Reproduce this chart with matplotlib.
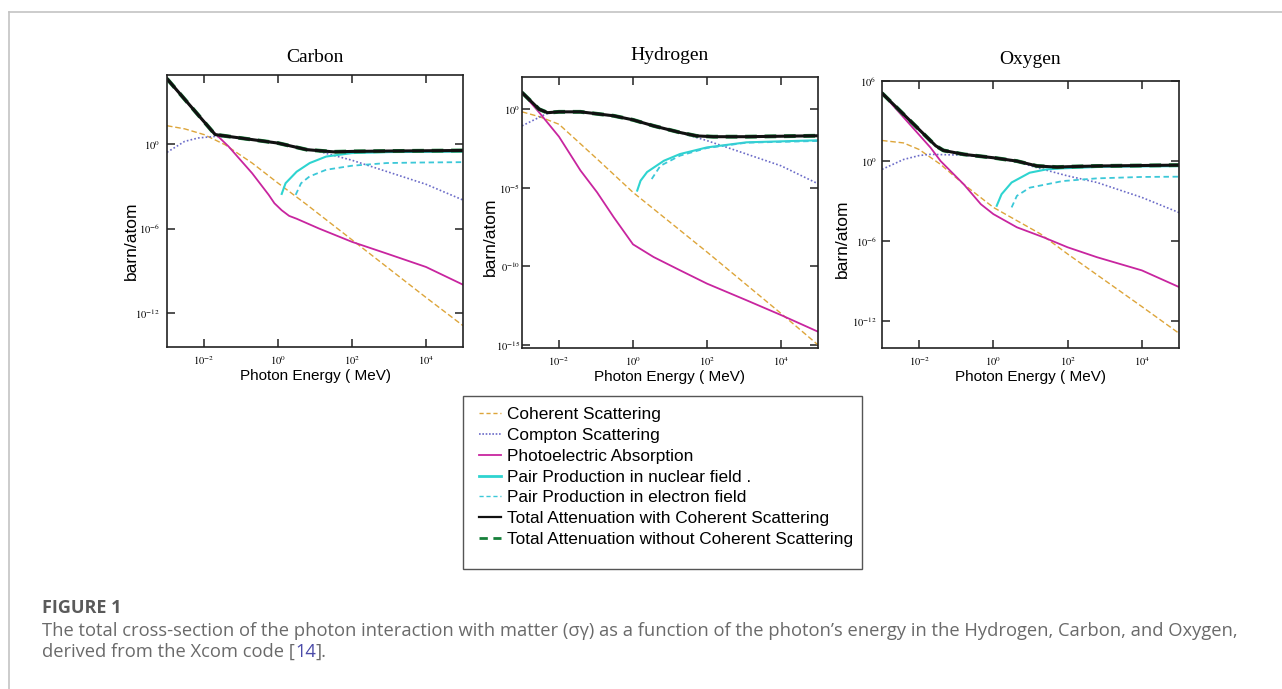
import matplotlib
matplotlib.use("Agg")
import matplotlib.pyplot as plt
from matplotlib.lines import Line2D
from matplotlib.patches import Rectangle

# ---- data (energy in MeV, cross-section in barn/atom) ----
# Carbon
c_total_e = [1e-3, 0.02, 0.07, 1, 6, 31.6, 100, 1e3, 1e5]
c_total = [4.3e4, 4.7, 3.0, 1.17, 0.4, 0.28, 0.30, 0.32, 0.35]
c_coh_e = [1e-3, 3e-3, 1e-2, 0.037, 0.2, 1, 6, 100, 1e4, 1e5]
c_coh = [20, 12, 4.7, 0.9, 0.045, 1.7e-3, 5e-5, 1.6e-7, 1.3e-11, 1.3e-13]
c_compton_e = [1e-3, 3e-3, 7e-3, 2e-2, 0.1, 1, 3, 12.6, 100, 1e3, 1e4, 1e5]
c_compton = [0.26, 1.55, 2.7, 3.5, 2.8, 1.12, 0.63, 0.30, 0.071, 0.01, 1.4e-3, 1.07e-4]
c_photo_e = [1e-3, 0.0145, 0.046, 0.2, 0.56, 0.8, 1.26, 2.0, 3.2, 13, 100, 870, 1e4, 1e5]
c_photo = [4.2e4, 12.6, 0.68, 8.5e-3, 2.5e-4, 6.3e-5, 2.0e-5, 8e-6, 5e-6, 1.0e-6, 1.15e-7, 1.7e-8, 1.9e-9,
           1.05e-10]
c_pairn_e = [1.26, 1.6, 3.2, 7.2, 20, 100, 370, 1e3, 1e5]
c_pairn = [2.9e-4, 1.66e-3, 0.011, 0.045, 0.13, 0.23, 0.25, 0.27, 0.29]
c_paire_e = [3.0, 4.2, 7.1, 20, 100, 870, 7000, 1e5]
c_paire = [2.5e-4, 1.66e-3, 5e-3, 0.015, 0.029, 0.045, 0.049, 0.052]

# Hydrogen
h_total_e = [1e-3, 2.9e-3, 4.9e-3, 1e-2, 0.038, 0.3, 1, 3.6, 18.6, 52, 148, 1170, 1e5]
h_total = [11.5, 1.0, 0.6, 0.68, 0.68, 0.38, 0.21, 0.087, 0.033, 0.020, 0.0178, 0.0178, 0.0204]
h_coh_e = [1e-3, 3e-3, 1e-2, 0.107, 1, 100, 1e4, 1e5]
h_coh = [0.68, 0.33, 0.11, 6.8e-4, 5.1e-6, 8.1e-10, 1.0e-13, 1.0e-15]
h_compton_e = [1e-3, 4.3e-3, 6.3e-3, 1e-2, 0.038, 0.3, 1, 3.6, 18.6, 100, 1170, 1e4, 1e5]
h_compton = [0.087, 0.48, 0.63, 0.66, 0.66, 0.37, 0.21, 0.085, 0.032, 0.01, 1.4e-3, 2.5e-4, 1.8e-5]
h_photo_e = [1e-3, 2.9e-3, 1e-2, 0.038, 0.107, 0.3, 1, 3.6, 18.6, 100, 1170, 1e4, 1e5]
h_photo = [11.5, 0.63, 0.0178, 1.26e-4, 5.1e-6, 1.35e-7, 2.5e-9, 3.9e-10, 5.6e-11, 7.9e-12, 6.9e-13, 7.9e-14, 6.9e-15]
h_pairn_e = [1.3, 1.6, 2.4, 6.8, 18.6, 100, 1170, 1e5]
h_pairn = [6.6e-6, 2.8e-5, 1e-4, 5.2e-4, 1.4e-3, 3.7e-3, 7.8e-3, 0.0105]
h_paire_e = [3.2, 5.5, 18.6, 100, 1170, 1e5]
h_paire = [3.6e-5, 2.5e-4, 1.1e-3, 3.4e-3, 7.4e-3, 9.5e-3]

# Oxygen
o_total_e = [1e-3, 0.028, 0.045, 0.16, 1, 4.3, 15, 52, 100, 620, 1e5]
o_total = [1.23e5, 14, 6.3, 3.2, 1.78, 1.0, 0.43, 0.355, 0.38, 0.43, 0.5]
o_coh_e = [1e-3, 3.8e-3, 1e-2, 0.038, 0.16, 1, 18.6, 100, 1e4, 1e5]
o_coh = [35, 23, 7.4, 0.56, 0.018, 3.4e-4, 3.5e-6, 1.1e-7, 1.26e-11, 1.26e-13]
o_compton_e = [1e-3, 3.8e-3, 1e-2, 0.02, 0.16, 1, 4.3, 15, 100, 620, 1e4, 1e5]
o_compton = [0.24, 1.32, 2.6, 3.2, 2.8, 1.7, 0.9, 0.32, 0.078, 0.025, 1.9e-3, 1.4e-4]
o_photo_e = [1e-3, 0.0204, 0.038, 0.16, 0.46, 1, 4.3, 22, 100, 620, 1e4, 1e5]
o_photo = [1.23e5, 10, 1.0, 0.018, 5.9e-4, 1.07e-4, 1.1e-5, 2e-6, 3.5e-7, 6.3e-8, 6.5e-9, 3.7e-10]
o_pairn_e = [1.23, 1.66, 3.1, 9.5, 27, 80, 1e3, 1e5]
o_pairn = [4.5e-4, 3.3e-3, 0.025, 0.135, 0.24, 0.29, 0.38, 0.42]
o_paire_e = [3.1, 4.3, 9.5, 74, 620, 1e4, 1e5]
o_paire = [3.4e-4, 2.5e-3, 0.0102, 0.032, 0.051, 0.065, 0.068]

x_ticks = [1e-2, 1, 1e2, 1e4]
x_ticklabels = [r"$10^{-2}$", r"$10^{0}$", r"$10^{2}$", r"$10^{4}$"]

legend_labels = [
    "Coherent Scattering",
    "Compton Scattering",
    "Photoelectric Absorption",
    "Pair Production in nuclear field .",
    "Pair Production in electron field",
    "Total Attenuation with Coherent Scattering",
    "Total Attenuation without Coherent Scattering",
]

COH_C = "#DDA53A"
COMP_C = "#6B6BC8"
PHOTO_C = "#C8259F"
PAIRN_C = "#2ED4D0"
PAIRE_C = "#3CC8D8"
TOT_C = "#111111"
GREEN_C = "#16803A"

plt.rcParams["mathtext.fontset"] = "stix"

W, H = 1282, 689
fig = plt.figure(figsize=(W / 100, H / 100), dpi=100)


def px_axes(left, top, right, bottom):
    return fig.add_axes([left / W, 1 - bottom / H, (right - left) / W, (bottom - top) / H])


def draw_panel(ax, title, title_pad, curves, ylim, yticks, yticklabels, ylab_xy, ytick_pad):
    (tot_e, tot, coh_e, coh, comp_e, comp, ph_e, ph, pn_e, pn, pe_e, pe) = curves
    ax.plot(coh_e, coh, color=COH_C, lw=1.0, dashes=(4, 2))
    ax.plot(comp_e, comp, color=COMP_C, lw=1.2, dashes=(1, 1.3))
    ax.plot(ph_e, ph, color=PHOTO_C, lw=1.3)
    ax.plot(pn_e, pn, color=PAIRN_C, lw=1.5)
    ax.plot(pe_e, pe, color=PAIRE_C, lw=1.3, dashes=(3, 2))
    ax.plot(tot_e, tot, color=GREEN_C, lw=2.8, dashes=(3, 2))
    ax.plot(tot_e, tot, color=TOT_C, lw=2.2)

    ax.set_xscale("log")
    ax.set_yscale("log")
    ax.set_xlim(1e-3, 1e5)
    ax.set_ylim(*ylim)
    ax.set_xticks(x_ticks)
    ax.set_xticklabels(x_ticklabels)
    ax.set_yticks(yticks)
    ax.set_yticklabels(yticklabels)
    ax.minorticks_off()
    ax.tick_params(direction="in", length=6, width=1.1, top=True, right=True,
                   labelsize=7.5, pad=5, color="#222222")
    ax.tick_params(axis="y", pad=ytick_pad)
    for s in ax.spines.values():
        s.set_linewidth(1.2)
        s.set_color("#222222")

    ax.set_title(title, fontsize=14, family="Liberation Serif", pad=title_pad)
    ax.set_ylabel("barn/atom", fontsize=12.5, family="Liberation Sans")
    ax.yaxis.set_label_coords(*ylab_xy)
    ax.set_xlabel("Photon Energy ( MeV)", fontsize=11, family="Liberation Sans")
    ax.xaxis.set_label_coords(0.5, -0.082)


ax_c = px_axes(167, 75, 463, 347)
draw_panel(ax_c, "Carbon", 9,
           (c_total_e, c_total, c_coh_e, c_coh, c_compton_e, c_compton,
            c_photo_e, c_photo, c_pairn_e, c_pairn, c_paire_e, c_paire),
           (10 ** -14.4, 10 ** 4.9), [1, 1e-6, 1e-12],
           [r"$10^{0}$", r"$10^{-6}$", r"$10^{-12}$"], (-0.095, 0.39), 5)

# the "1" of 10^-10 is hidden behind the axis label in the original
ax_h = px_axes(522, 77, 818, 348)
draw_panel(ax_h, "Hydrogen", 12,
           (h_total_e, h_total, h_coh_e, h_coh, h_compton_e, h_compton,
            h_photo_e, h_photo, h_pairn_e, h_pairn, h_paire_e, h_paire),
           (10 ** -15.2, 10 ** 2.05), [1, 1e-5, 1e-10, 1e-15],
           [r"$10^{0}$", r"$10^{-5}$", r"$0^{-10}$", r"$10^{-15}$"], (-0.08, 0.41), 1.5)

ax_o = px_axes(882, 81, 1179, 348)
draw_panel(ax_o, "Oxygen", 12,
           (o_total_e, o_total, o_coh_e, o_coh, o_compton_e, o_compton,
            o_photo_e, o_photo, o_pairn_e, o_pairn, o_paire_e, o_paire),
           (1e-14, 1e6), [1e6, 1, 1e-6, 1e-12],
           [r"$10^{6}$", r"$10^{0}$", r"$10^{-6}$", r"$10^{-12}$"], (-0.108, 0.41), 4)

# legend box
fig.patches.append(Rectangle((463 / W, 1 - 569 / H), 399 / W, 173 / H, transform=fig.transFigure,
                             fill=False, edgecolor="#555555", lw=1.0))
handles = [
    Line2D([], [], color=COH_C, lw=1.0, dashes=(3, 2)),
    Line2D([], [], color=COMP_C, lw=1.2, dashes=(1, 1)),
    Line2D([], [], color=PHOTO_C, lw=1.3),
    Line2D([], [], color=PAIRN_C, lw=2.0),
    Line2D([], [], color=PAIRE_C, lw=1.0, dashes=(3, 2)),
    Line2D([], [], color=TOT_C, lw=1.6),
    Line2D([], [], color=GREEN_C, lw=2.0, dashes=(3, 2)),
]
fig.legend(handles, legend_labels, loc="upper left", bbox_to_anchor=(479 / W, 1 - 407 / H),
           frameon=False, prop={"family": "Liberation Sans", "size": 12.4}, handlelength=1.25,
           handletextpad=0.35, labelspacing=0.335, borderpad=0, borderaxespad=0)

# page frame lines
fig.add_artist(Line2D([9 / W, 1], [1 - 12 / H, 1 - 12 / H], transform=fig.transFigure,
                      color="#c4c4c4", lw=1.2))
fig.add_artist(Line2D([9 / W, 9 / W], [0, 1 - 12 / H], transform=fig.transFigure,
                      color="#c4c4c4", lw=1.2))

# caption
CAP_SIZE = 13.25
fig.text(42 / W, 1 - 608 / H, "FIGURE 1", fontsize=13, fontweight="bold", family="Open Sans",
         color="#5a5a5a", va="center")
fig.text(42 / W, 1 - 631 / H,
         "The total cross-section of the photon interaction with matter (\u03c3\u03b3) as a function of the "
         "photon\u2019s energy in the Hydrogen, Carbon, and Oxygen,",
         fontsize=CAP_SIZE, family="Open Sans", color="#6a6a6a", va="center")
t = fig.text(42 / W, 1 - 652 / H, "derived from the Xcom code [", fontsize=CAP_SIZE, family="Open Sans",
             color="#6a6a6a", va="center")
fig.canvas.draw()
bb = t.get_window_extent()
t2 = fig.text(bb.x1 / W, 1 - 652 / H, "14", fontsize=CAP_SIZE, family="Open Sans", color="#4a4aa8",
              va="center")
fig.canvas.draw()
bb2 = t2.get_window_extent()
fig.text(bb2.x1 / W, 1 - 652 / H, "].", fontsize=CAP_SIZE, family="Open Sans", color="#6a6a6a", va="center")

fig.savefig("out.png", dpi=100)
